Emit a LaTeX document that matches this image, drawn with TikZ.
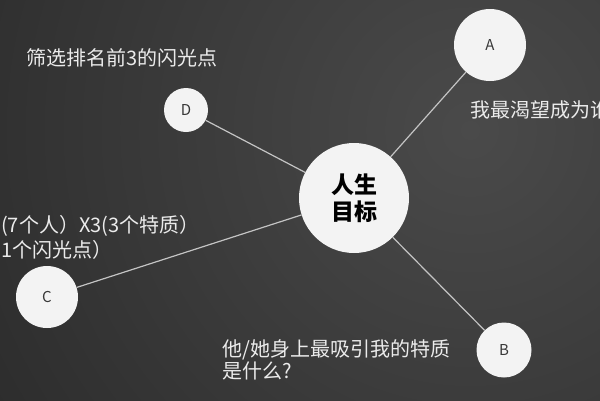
\documentclass[tikz,border=0pt]{standalone}
\usepackage{fontspec}
\setmainfont{Noto Sans CJK SC}
\definecolor{bgdark}{HTML}{252525}
\definecolor{bglight}{HTML}{4A4A4A}
\definecolor{linegray}{HTML}{C4C4C4}
\definecolor{discfill}{HTML}{F3F3F3}
\definecolor{ink}{HTML}{383838}

\begin{document}
\begin{tikzpicture}[x=1pt, y=-1pt,
  disc/.style={circle, fill=discfill, text=ink, inner sep=0pt,
    font=\fontsize{15}{15}\selectfont},
  spoke/.style={draw=linegray, line width=1.2pt},
  note/.style={anchor=west, text=white!92!black, inner sep=0pt, align=left,
    font=\fontsize{20}{25}\selectfont}]
  \useasboundingbox (0,0) rectangle (600,400);

  % chalkboard
  \begin{scope}
    \clip (0,0) rectangle (600,400);
    \shade[inner color=bglight, outer color=bgdark] (470,130) circle (700pt);
  \end{scope}

  \node[disc, minimum size=110pt, text=black, align=center,
    font=\bfseries\fontsize{23}{27}\selectfont] (goal) at (354,198) {人生\\目标};
  \node[disc, minimum size=72pt] (A) at (490,45) {A};
  \node[disc, minimum size=55pt] (B) at (504,350) {B};
  \node[disc, minimum size=62pt] (C) at (47,297) {C};
  \node[disc, minimum size=44pt] (D) at (186,110) {D};

  \foreach \leaf in {A,B,C,D} {
    \draw[spoke] (goal) -- (\leaf);
  }

  \node[note] (noteD) at (26,58) {筛选排名前3的闪光点};
  \node[note] (noteA) at (470,110) {我最渴望成为谁};
  \node[note] (noteC) at (1,237) {(7个人）X3(3个特质）\\1个闪光点）};
  \node[note, font=\fontsize{20}{22}\selectfont] (noteB) at (222,360)
    {他/她身上最吸引我的特质\\是什么?};
\end{tikzpicture}
\end{document}
